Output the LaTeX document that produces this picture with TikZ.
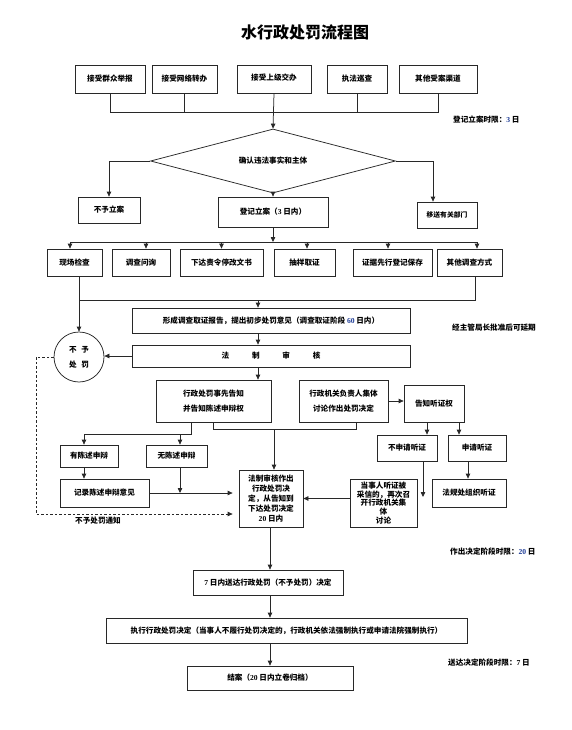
\documentclass[tikz,border=0pt]{standalone}
\usepackage{fontspec}
\setmainfont{Noto Sans CJK SC}
\newfontfamily\numf{Liberation Serif}
\usetikzlibrary{arrows.meta,shapes.geometric,calc}
\definecolor{numblue}{RGB}{30,60,150}
\definecolor{linegray}{RGB}{40,40,40}
\newcommand\nm[1]{{\numf\bfseries #1}}
\newcommand\bn[1]{{\color{numblue}\numf\bfseries #1}}
\begin{document}
\begin{tikzpicture}[x=1pt,y=-1pt,
  txt/.style={font=\fontsize{7.6}{9.8}\selectfont\bfseries},
  bx/.style 2 args={draw=linegray, line width=0.75pt, inner sep=0pt, align=center, txt,
     minimum width=#1pt, minimum height=#2pt},
  ln/.style={draw=linegray, line width=0.75pt},
  ar/.style={ln, -{Triangle[length=5pt,width=4.5pt]}},
  dsh/.style={ar, dashed, dash pattern=on 2.5pt off 2pt},
  lbl/.style={txt, inner sep=0pt, anchor=west}]
\useasboundingbox (0,0) rectangle (572,730);

% title
\node[font=\fontsize{16}{18}\selectfont\bfseries] (title) at (305,32) {水行政处罚流程图};

% top sources
\node[bx={70}{28}] (t1) at (110,79) {接受群众举报};
\node[bx={65}{28}] (t2) at (184.5,79) {接受网络转办};
\node[bx={74}{28}] (t3) at (274,79) {\raisebox{4pt}{接受上级交办}};
\node[bx={60}{28}] (t4) at (357,79) {执法巡查};
\node[bx={78}{28}] (t5) at (438,79) {其他受案渠道};
\coordinate (busA) at (0,112);
\draw[ln] (t1.south) -- (t1.south |- busA) -- (t5.south |- busA) -- (t5.south);
\draw[ln] (t2.south) -- (t2.south |- busA);
\draw[ln] (t4.south) -- (t4.south |- busA);

\node[lbl] (l1) at (453,120) {登记立案时限：\bn{3} 日};

% diamond
\node[diamond, draw=linegray, line width=0.75pt, aspect=3.8, inner sep=0pt,
      minimum width=245pt, minimum height=64pt, txt] (dia) at (273,161) {确认违法事实和主体};
\draw[ar] (t3.south) -- (dia.north);

\node[bx={62}{26}] (n1) at (109,210) {不予立案};
\node[bx={110}{30}] (reg) at (273,212) {登记立案（\nm{3} 日内）};
\node[bx={60}{26}, font=\fontsize{6.8}{9}\selectfont\bfseries] (n3) at (447,215) {移送有关部门};
\coordinate (n3a) at ([xshift=-14pt]n3.north);
\draw[ar] (dia.west) -| (n1.north);
\draw[ar] (dia.east) -| (n3a);
\draw[ar] (dia.south) -- (reg.north);

% investigation methods
\coordinate (busB) at (0,242);
\draw[ar] (reg.south) -- (reg.south |- busB);
\node[bx={55}{27}] (r1) at (74.5,262.5) {现场检查};
\node[bx={58}{27}] (r2) at (141,262.5) {调查问询};
\node[bx={83}{27}] (r3) at (221.5,262.5) {下达责令停改文书};
\node[bx={61}{27}] (r4) at (304.5,262.5) {抽样取证};
\node[bx={79}{27}] (r5) at (392.5,262.5) {证据先行登记保存};
\node[bx={65}{27}] (r6) at (469.5,262.5) {其他调查方式};
\coordinate (r1a) at ([xshift=-4.5pt]r1.north);
\coordinate (r2a) at ([xshift=5pt]r2.north);
\coordinate (r3a) at (r3.north);
\coordinate (r4a) at ([xshift=2.5pt]r4.north);
\coordinate (r5a) at ([xshift=-4.5pt]r5.north);
\coordinate (r6a) at ([xshift=7.5pt]r6.north);
\draw[ln] (r1a |- busB) -- (r6a |- busB);
\foreach \r in {r1a,r2a,r3a,r4a,r5a,r6a}{\draw[ar] (\r |- busB) -- (\r);}

% collect
\coordinate (busC) at (0,300);
\coordinate (r1b) at ([xshift=4.5pt]r1.south);
\coordinate (r6b) at ([xshift=5.5pt]r6.south);
\draw[ln] (r1b) -- (r1b |- busC) -- (r6b |- busC) -- (r6b);
\node[draw=linegray, line width=0.75pt, circle, minimum size=50pt, inner sep=0pt, align=center, txt] (np) at (79,357) {不\hspace{0.6em}予\\[5pt]处\hspace{0.6em}罚};
\draw[ar] (r1b |- busC) -- (np.north);

\coordinate (colA) at (258,0);
\node[bx={278}{25}] (rep) at (271,320.5) {形成调查取证报告，提出初步处罚意见（调查取证阶段 \bn{60} 日内）};
\node[lbl] (l2) at (452,328) {经主管局长批准后可延期};
\draw[ar] (colA |- busC) -- (colA |- rep.north);
\node[bx={278}{22}] (law) at (271,356) {法\hspace{3em}制\hspace{3em}审\hspace{3em}核};
\draw[ar] (colA |- rep.south) -- (colA |- law.north);
\draw[ar] (law.west) -- (np.east |- law.west);

% notification
\node[bx={115}{42}] (a1) at (213.5,401) {行政处罚事先告知\\[5pt]并告知陈述申辩权};
\node[bx={89}{42}] (a2) at (343.5,401) {行政机关负责人集体\\[5pt]讨论作出处罚决定};
\node[bx={60}{37}] (a3) at (434,403.5) {告知听证权};
\draw[ar] (colA |- law.south) -- (colA |- a1.north);
\draw[ar] (a2.east) -- (a2.east -| a3.west);

\node[bx={58}{22}] (b1) at (89,456) {有陈述申辩};
\node[bx={61}{22}] (b2) at (176.5,456) {无陈述申辩};
\node[bx={89}{28}] (b3) at (104.5,493) {记录陈述申辩意见};
\node[bx={64}{57}] (c1) at (271,498.5) {法制审核作出\\行政处罚决\\定，从告知到\\下达处罚决定\\\nm{20} 日内};

\coordinate (a1l) at ([xshift=-22.5pt]a1.south);
\coordinate (a1r) at ([xshift=-0.5pt]a1.south);
\coordinate (a2r) at ([xshift=12.5pt]a2.south);
\coordinate (b1a) at ([xshift=-5pt]b1.north);
\coordinate (b2a) at ([xshift=3.5pt]b2.north);
\coordinate (c1a) at ([xshift=3pt]c1.north);
\coordinate (jb) at (0,434);
\coordinate (jc) at (0,429);
\draw[ar] (a1l) -- (a1l |- jb) -| (b1a);
\draw[ar] (b2a |- jb) -- (b2a);
\draw[ln] (a1r) -- (a1r |- jc) -- (a2r |- jc) -- (a2r);
\draw[ar] (c1a |- jc) -- (c1a);
\draw[ar] (b1a |- b1.south) -- (b1a |- b3.north);
\draw[ar] (b2a |- b2.south) -- (b2a |- b3.east);
\draw[ar, shorten >=6pt] (b3.east) -- (b3.east -| c1.west);

% not punished notice
\coordinate (dl) at (36,514);
\draw[dsh, shorten >=6pt] (np.west) -| (dl) -- (dl -| c1.west);
\node[lbl] (l5) at (75,521) {不予处罚通知};

% hearing
\node[bx={60}{26}] (d1) at (407,448) {不申请听证};
\node[bx={58}{26}] (d2) at (477,448) {申请听证};
\node[bx={74}{28}] (d3) at (469,493) {法规处组织听证};
\node[bx={67}{48}, font=\fontsize{7.6}{8.6}\selectfont\bfseries] (e1) at (383.5,503) {当事人听证被\\采信的，再次召\\开行政机关集\\体\\讨论};
\coordinate (a3l) at ([xshift=-7pt]a3.south);
\coordinate (a3r) at ([xshift=25pt]a3.south);
\draw[ar] (a3l) -- (a3l |- d1.north);
\draw[ar] (a3r) -- (a3r |- d2.north);
\coordinate (d1b) at ([xshift=16pt]d1.south);
\coordinate (d1e) at (423,497);
\draw[ar] (d1b) -- (d1e);
\coordinate (d2b) at ([xshift=-9pt]d2.south);
\draw[ar] (d2b) -- (d2b |- d3.north);
\draw[ar] (e1.west |- c1.east) -- (c1.east);

% final stages
\node[lbl] (l3) at (450,552) {作出决定阶段时限：\bn{20} 日};
\node[bx={150}{25}] (f1) at (268,582.5) {\nm{7} 日内送达行政处罚（不予处罚）决定};
\node[bx={361}{25}] (g1) at (286.5,630.5) {执行行政处罚决定（当事人不履行处罚决定的，行政机关依法强制执行或申请法院强制执行）};
\node[bx={166}{24}] (h1) at (270,678) {结案（\nm{20} 日内立卷归档）};
\node[lbl] (l4) at (448,663) {送达决定阶段时限：\nm{7} 日};
\coordinate (colB) at (270,0);
\draw[ar] (colB |- c1.south) -- (colB |- f1.north);
\draw[ar] (colB |- f1.south) -- (colB |- g1.north);
\draw[ar] (colB |- g1.south) -- (colB |- h1.north);
\end{tikzpicture}
\end{document}
